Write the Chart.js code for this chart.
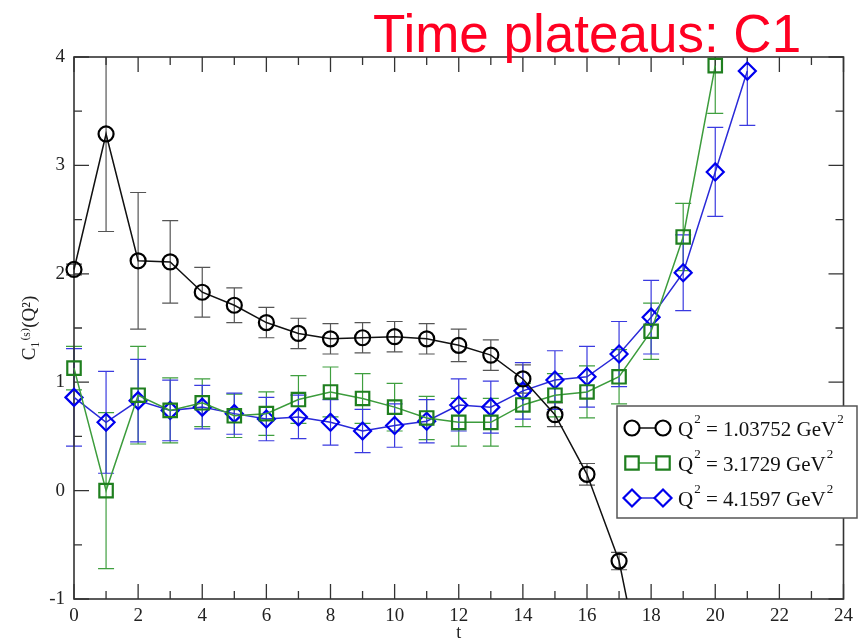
<!DOCTYPE html>
<html>
<head>
<meta charset="utf-8">
<script src="https://cdn.jsdelivr.net/npm/chart.js@4.4.1/dist/chart.umd.min.js"></script>
<style>
  body { margin: 0; background: #fff; }
  #wrap { width: 859px; height: 642px; position: relative; }
</style>
</head>
<body>
<div id="wrap"><canvas id="myChart"></canvas></div>
<script>
// time slices
const times = [0, 1, 2, 3, 4, 5, 6, 7, 8, 9, 10, 11, 12, 13, 14, 15, 16, 17, 18, 19, 20, 21];

// Q^2 = 1.03752 GeV^2
const c1Low = [2.04, 3.29, 2.12, 2.11, 1.83, 1.71, 1.55, 1.45, 1.40, 1.41, 1.42, 1.40, 1.34, 1.25, 1.03, 0.70, 0.15, -0.65, -2.1];
const c1LowErr = [0.05, 0.9, 0.63, 0.38, 0.23, 0.16, 0.14, 0.14, 0.14, 0.14, 0.14, 0.14, 0.15, 0.14, 0.13, 0.11, 0.1, 0.08, 0.1];

// Q^2 = 3.1729 GeV^2
const c1Mid = [1.13, 0.0, 0.88, 0.74, 0.81, 0.69, 0.71, 0.84, 0.91, 0.85, 0.77, 0.67, 0.63, 0.63, 0.79, 0.88, 0.91, 1.05, 1.47, 2.34, 3.92];
const c1MidErr = [0.2, 0.72, 0.45, 0.3, 0.22, 0.2, 0.2, 0.22, 0.23, 0.23, 0.22, 0.2, 0.22, 0.22, 0.2, 0.2, 0.24, 0.25, 0.26, 0.31, 0.44];

// Q^2 = 4.1597 GeV^2
const c1High = [0.86, 0.63, 0.83, 0.74, 0.77, 0.71, 0.66, 0.68, 0.63, 0.55, 0.60, 0.64, 0.79, 0.77, 0.92, 1.02, 1.05, 1.26, 1.60, 2.01, 2.94, 3.87];
const c1HighErr = [0.45, 0.47, 0.38, 0.28, 0.2, 0.19, 0.2, 0.2, 0.21, 0.2, 0.2, 0.2, 0.24, 0.24, 0.26, 0.27, 0.28, 0.3, 0.34, 0.35, 0.41, 0.5];

const seriesLabels = ['1.03752', '3.1729', '4.1597'];
const xTickValues = [0, 2, 4, 6, 8, 10, 12, 14, 16, 18, 20, 22, 24];
const yTickValues = [-1, 0, 1, 2, 3, 4];

const toPoints = (vals) => vals.map((v, i) => ({ x: times[i], y: v }));
const errs = [c1LowErr, c1MidErr, c1HighErr];
const barColors = ['#555555', '#3f9f3f', '#3a3ae0'];

// error bars, drawn under the markers
const errorBars = {
  id: 'errorBars',
  beforeDatasetsDraw(chart) {
    const { ctx, chartArea: a, scales: { x, y } } = chart;
    ctx.save();
    ctx.beginPath();
    ctx.rect(a.left - 20, a.top, a.right - a.left + 40, a.bottom - a.top);
    ctx.clip();
    chart.data.datasets.forEach((ds, i) => {
      ctx.strokeStyle = barColors[i];
      ctx.lineWidth = 1.2;
      ds.data.forEach((p, j) => {
        const e = errs[i][j];
        const px = x.getPixelForValue(p.x);
        const hi = y.getPixelForValue(p.y + e);
        const lo = y.getPixelForValue(p.y - e);
        ctx.beginPath();
        ctx.moveTo(px, hi); ctx.lineTo(px, lo);
        ctx.moveTo(px - 8, hi); ctx.lineTo(px + 8, hi);
        ctx.moveTo(px - 8, lo); ctx.lineTo(px + 8, lo);
        ctx.stroke();
      });
    });
    ctx.restore();
  }
};

// box with inward ticks on all four sides
const frame = {
  id: 'frame',
  beforeDatasetsDraw(chart) {
    const { ctx, chartArea: a, scales: { x, y } } = chart;
    ctx.save();
    ctx.strokeStyle = '#333';
    ctx.lineWidth = 1.6;
    ctx.strokeRect(a.left, a.top, a.right - a.left, a.bottom - a.top);
    ctx.lineWidth = 1.3;
    ctx.beginPath();
    for (let t = 0; t <= 24; t++) {
      const px = x.getPixelForValue(t);
      const len = t % 2 === 0 ? 15 : 8;
      ctx.moveTo(px, a.bottom); ctx.lineTo(px, a.bottom - len);
      ctx.moveTo(px, a.top); ctx.lineTo(px, a.top + len);
    }
    for (let v = -1; v <= 4; v += 0.5) {
      const py = y.getPixelForValue(v);
      const len = Number.isInteger(v) ? 15 : 8;
      ctx.moveTo(a.left, py); ctx.lineTo(a.left + len, py);
      ctx.moveTo(a.right, py); ctx.lineTo(a.right - len, py);
    }
    ctx.stroke();
    ctx.restore();
  }
};

// legend box and the title in red
const extras = {
  id: 'extras',
  afterDraw(chart) {
    const { ctx } = chart;
    ctx.save();
    ctx.fillStyle = '#ff0022';
    ctx.font = '53px "Liberation Sans", Arial, sans-serif';
    ctx.textBaseline = 'alphabetic';
    ctx.fillText('Time plateaus: C1', 373, 52);

    const bx = 617, by = 406, bw = 240, bh = 112;
    ctx.fillStyle = '#fff';
    ctx.fillRect(bx, by, bw, bh);
    ctx.strokeStyle = '#555';
    ctx.lineWidth = 1.5;
    ctx.strokeRect(bx, by, bw, bh);

    chart.data.datasets.forEach((ds, i) => {
      const ry = 428 + i * 35;
      ctx.strokeStyle = ds.borderColor;
      ctx.lineWidth = 1.5;
      ctx.beginPath();
      ctx.moveTo(632, ry); ctx.lineTo(663, ry);
      ctx.stroke();
      const opts = { pointStyle: ds.pointStyle, radius: ds.pointRadius, rotation: 0, borderWidth: ds.pointBorderWidth };
      ctx.strokeStyle = ds.pointBorderColor;
      ctx.fillStyle = '#fff';
      ctx.lineWidth = ds.pointBorderWidth;
      Chart.helpers.drawPoint(ctx, opts, 632, ry);
      Chart.helpers.drawPoint(ctx, opts, 663, ry);

      ctx.fillStyle = '#111';
      ctx.textBaseline = 'middle';
      let tx = 678;
      const big = '21px "Liberation Serif", "Times New Roman", serif';
      const small = '13px "Liberation Serif", "Times New Roman", serif';
      ctx.font = big; ctx.fillText('Q', tx, ry + 2); tx += ctx.measureText('Q').width + 1;
      ctx.font = small; ctx.fillText('2', tx, ry - 8); tx += ctx.measureText('2').width;
      const mid = ' = ' + seriesLabels[i] + ' GeV';
      ctx.font = big; ctx.fillText(mid, tx, ry + 2); tx += ctx.measureText(mid).width + 1;
      ctx.font = small; ctx.fillText('2', tx, ry - 8);
    });
    ctx.restore();
  }
};

const ctx = document.getElementById('myChart');

new Chart(ctx, {
  type: 'line',
  data: {
    datasets: [
      {
        label: 'Q² = 1.03752 GeV²',
        data: toPoints(c1Low),
        borderColor: '#111',
        borderWidth: 1.5,
        pointStyle: 'circle',
        pointRadius: 7.5,
        pointBorderWidth: 2.2,
        pointBorderColor: '#000',
        pointBackgroundColor: 'rgba(0,0,0,0)',
        clip: { left: 12, top: 12, right: 12, bottom: 0 }
      },
      {
        label: 'Q² = 3.1729 GeV²',
        data: toPoints(c1Mid),
        borderColor: '#3c9c3c',
        borderWidth: 1.5,
        pointStyle: 'rect',
        pointRadius: 9.5,
        pointBorderWidth: 2.2,
        pointBorderColor: '#1f7f1f',
        pointBackgroundColor: 'rgba(0,0,0,0)',
        clip: 12
      },
      {
        label: 'Q² = 4.1597 GeV²',
        data: toPoints(c1High),
        borderColor: '#2a2ad8',
        borderWidth: 1.5,
        pointStyle: 'rectRot',
        pointRadius: 8.5,
        pointBorderWidth: 2.2,
        pointBorderColor: '#0000ee',
        pointBackgroundColor: 'rgba(0,0,0,0)',
        clip: 12
      }
    ]
  },
  options: {
    responsive: true,
    maintainAspectRatio: false,
    animation: false,
    layout: { padding: { left: 0, top: 57, right: 11, bottom: 0 } },
    plugins: {
      legend: { display: false },
      tooltip: { enabled: false }
    },
    scales: {
      x: {
        type: 'linear',
        min: 0,
        max: 24,
        afterBuildTicks: (s) => { s.ticks = xTickValues.map(v => ({ value: v })); },
        afterFit: (s) => { s.height = 43; },
        grid: { display: false, drawTicks: false },
        border: { display: false },
        ticks: {
          color: '#222',
          padding: 6,
          font: { family: '"Liberation Serif", "Times New Roman", serif', size: 19 }
        },
        title: {
          display: true,
          text: 't',
          color: '#222',
          padding: 0,
          font: { family: '"Liberation Serif", "Times New Roman", serif', size: 18, lineHeight: 1 }
        }
      },
      y: {
        min: -1,
        max: 4,
        afterBuildTicks: (s) => { s.ticks = yTickValues.map(v => ({ value: v })); },
        afterFit: (s) => { s.width = 74; },
        grid: { display: false, drawTicks: false },
        border: { display: false },
        ticks: {
          color: '#222',
          padding: 9,
          font: { family: '"Liberation Serif", "Times New Roman", serif', size: 19 }
        },
        title: {
          display: true,
          text: 'C₁⁽ˢ⁾(Q²)',
          color: '#222',
          padding: { top: 19, bottom: 0 },
          font: { family: '"Liberation Serif", "DejaVu Serif", serif', size: 19, lineHeight: 1.2 }
        }
      }
    }
  },
  plugins: [errorBars, frame, extras]
});
</script>
</body>
</html>
